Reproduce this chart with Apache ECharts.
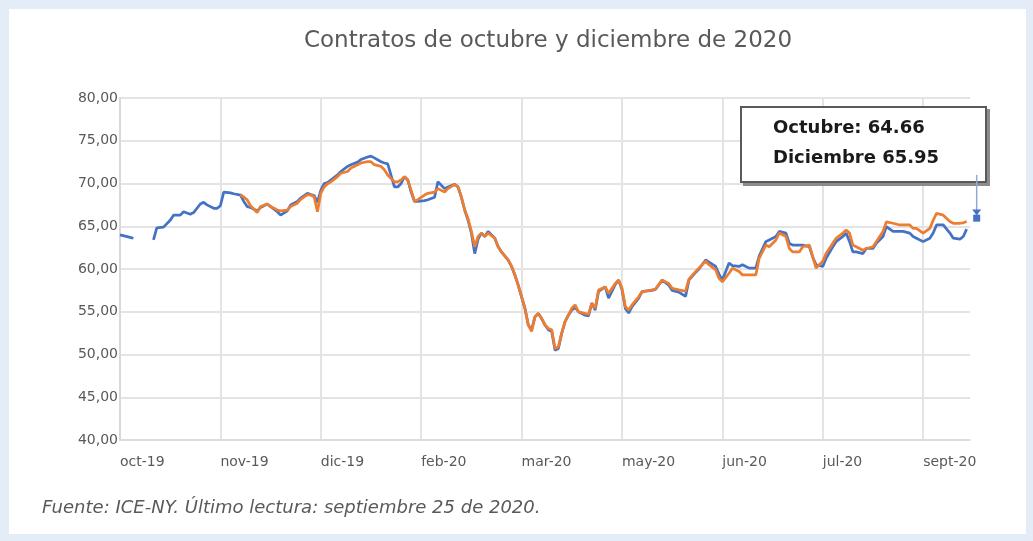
<!DOCTYPE html>
<html>
<head>
<meta charset="utf-8">
<script src="https://cdn.jsdelivr.net/npm/echarts@6/dist/echarts.min.js"></script>
<style>
  html, body { margin: 0; padding: 0; background: #e4ecf8; }
  #chart { position: absolute; left: 9px; top: 9px; width: 1017px; height: 525px; background: #ffffff; }
</style>
</head>
<body>
<div id="chart"></div>
<script>
// indice de dia de negociacion (desde el 1 de octubre de 2019)
var dias = [
  0, 3, 4, 7, 10, 11, 13, 15, 16, 18,
  19, 21, 22, 24, 25, 26, 28, 29, 30, 31,
  33, 34, 36, 37, 38, 39, 41, 42, 44, 45,
  47, 48, 50, 51, 53, 54, 56, 57, 58, 59,
  60, 61, 62, 63, 65, 66, 68, 69, 71, 72,
  74, 75, 76, 78, 79, 80, 82, 83, 84, 85,
  86, 87, 88, 89, 91, 92, 94, 95, 97, 98,
  100, 101, 102, 103, 104, 105, 106, 107, 108, 109,
  110, 112, 113, 114, 116, 117, 118, 119, 120, 121,
  122, 123, 124, 125, 126, 127, 128, 129, 130, 131,
  132, 133, 134, 135, 136, 137, 139, 140, 141, 142,
  143, 145, 146, 148, 149, 150, 151, 152, 153, 155,
  156, 157, 159, 160, 162, 164, 165, 167, 169, 170,
  172, 173, 175, 176, 178, 179, 180, 182, 183, 185,
  186, 188, 189, 190, 191, 193, 194, 196, 197, 199,
  200, 201, 203, 204, 206, 207, 208, 210, 211, 213,
  214, 216, 217, 218, 219, 220, 222, 223, 225, 226,
  228, 229, 231, 233, 234, 236, 237, 238, 240, 242,
  243, 244, 246, 248, 249, 251, 252, 253
];

var octubre = [
  64.0, 63.7, 63.6, null, 63.4, 64.8, 64.9, 65.7, 66.3, 66.3,
  66.7, 66.4, 66.6, 67.6, 67.8, 67.5, 67.1, 67.1, 67.4, 69.0,
  68.9, 68.8, 68.65, 67.9, 67.3, 67.2, 66.8, 67.2, 67.6, 67.3,
  66.7, 66.3, 66.8, 67.5, 67.9, 68.3, 68.85, 68.7, 68.6, 67.8,
  69.2, 70.0, 70.1, 70.4, 71.0, 71.4, 72.0, 72.2, 72.5, 72.8,
  73.1, 73.2, 73.0, 72.55, 72.4, 72.3, 69.6, 69.6, 70.0, 70.8,
  70.4, 69.0, 67.9, 67.9, 68.0, 68.1, 68.4, 70.2, 69.4, 69.6,
  69.9, 69.6, 68.4, 66.9, 65.7, 64.2, 61.8, 63.5, 64.2, 63.8,
  64.4, 63.6, 62.6, 62.0, 61.05, 60.3, 59.3, 58.1, 56.75, 55.4,
  53.45, 52.9, 54.4, 54.8, 54.2, 53.45, 52.9, 52.7, 50.5, 50.7,
  52.5, 53.85, 54.6, 55.2, 55.5, 55.0, 54.6, 54.5, 56.0, 55.2,
  57.4, 57.9, 56.6, 58.2, 58.7, 57.6, 55.4, 54.85, 55.6, 56.6,
  57.35, 57.4, 57.5, 57.6, 58.7, 58.1, 57.5, 57.3, 56.8, 58.7,
  59.6, 60.0, 61.05, 60.8, 60.3, 59.4, 58.7, 60.7, 60.4, 60.3,
  60.5, 60.1, 60.1, 60.1, 61.5, 63.2, 63.4, 63.8, 64.4, 64.2,
  63.0, 62.8, 62.8, 62.8, 62.6, 61.4, 60.5, 60.3, 61.25, 62.6,
  63.2, 63.8, 64.2, 63.2, 62.0, 62.0, 61.8, 62.4, 62.4, 63.0,
  63.8, 64.95, 64.4, 64.4, 64.4, 64.2, 63.8, 63.6, 63.2, 63.6,
  64.2, 65.15, 65.15, 64.2, 63.6, 63.5, 63.8, 64.66
];

var diciembre = [
  null, null, null, null, null, null, null, null, null, null,
  null, null, null, null, null, null, null, null, null, null,
  null, null, 68.7, 68.4, 68.1, 67.4, 66.6, 67.3, 67.6, 67.3,
  66.9, 66.8, 66.9, 67.3, 67.7, 68.15, 68.7, 68.65, 68.45, 66.7,
  68.85, 69.6, 69.95, 70.2, 70.8, 71.2, 71.4, 71.8, 72.2, 72.4,
  72.55, 72.55, 72.2, 72.0, 71.6, 71.0, 70.2, 70.2, 70.4, 70.8,
  70.4, 69.2, 67.9, 68.1, 68.65, 68.85, 69.0, 69.4, 69.0, 69.4,
  69.9, 69.6, 68.45, 66.9, 65.9, 64.4, 62.6, 63.8, 64.2, 63.8,
  64.2, 63.6, 62.6, 62.0, 61.05, 60.3, 59.3, 58.1, 56.75, 55.4,
  53.45, 52.7, 54.4, 54.8, 54.2, 53.45, 53.05, 52.9, 50.7, 50.9,
  52.5, 53.85, 54.6, 55.4, 55.8, 55.0, 54.8, 54.7, 56.0, 55.4,
  57.55, 57.9, 57.15, 58.3, 58.7, 57.75, 55.6, 55.2, 55.8, 56.75,
  57.35, 57.4, 57.55, 57.65, 58.7, 58.3, 57.75, 57.55, 57.4, 58.8,
  59.7, 60.1, 60.9, 60.5, 59.9, 58.9, 58.5, 59.5, 60.1, 59.7,
  59.3, 59.3, 59.3, 59.3, 61.25, 62.8, 62.6, 63.4, 64.2, 63.8,
  62.4, 62.0, 62.0, 62.6, 62.8, 61.45, 60.1, 60.9, 61.8, 63.0,
  63.6, 64.2, 64.55, 64.2, 62.8, 62.6, 62.2, 62.4, 62.6, 63.2,
  64.4, 65.5, 65.35, 65.15, 65.15, 65.15, 64.75, 64.75, 64.2, 64.75,
  65.7, 66.5, 66.3, 65.55, 65.35, 65.35, 65.4, 65.55
];

// ultima lectura senalada con la flecha
var ultimoDia = [256];
var ultimoValor = [65.95];
var flechaValores = [71.0, 66.6];

var etiquetasX = ['oct-19', 'nov-19', 'dic-19', 'feb-20', 'mar-20', 'may-20', 'jun-20', 'jul-20', 'sept-20'];
var pasoX = 30;
var maxX = 254;

var gris = '#595959';
var rejilla = '#e4e4e4';
var azul = '#4472c4';
var naranja = '#ed7d31';
var fuente = '"DejaVu Sans", "Open Sans", sans-serif';

function pares(xs, ys) {
  return xs.map(function(x, i) { return [x, ys[i]]; });
}

var chart = echarts.init(document.getElementById('chart'), null, { renderer: 'canvas' });
chart.setOption({
  animation: false,
  textStyle: { fontFamily: fuente },
  title: {
    text: 'Contratos de octubre y diciembre de 2020',
    left: 534,
    top: 16,
    textAlign: 'center',
    textStyle: { color: gris, fontSize: 23, fontWeight: 'normal', fontFamily: fuente }
  },
  grid: { left: 111, right: 56, top: 89, bottom: 94 },
  xAxis: {
    type: 'value',
    min: 0,
    max: maxX,
    interval: pasoX,
    axisLine: { show: true, lineStyle: { color: '#d9d9d9', width: 1.5 } },
    axisTick: { show: false },
    axisLabel: {
      color: gris,
      fontSize: 14,
      margin: 15,
      align: 'left',
      showMaxLabel: false,
      formatter: function(v) { return etiquetasX[Math.round(v / pasoX)] || ''; }
    },
    splitLine: { show: true, showMaxLine: false, lineStyle: { color: rejilla, width: 2 } }
  },
  yAxis: {
    type: 'value',
    min: 40,
    max: 80,
    interval: 5,
    axisLine: { show: true, lineStyle: { color: '#d9d9d9', width: 2 } },
    axisTick: { show: false },
    axisLabel: {
      color: gris,
      fontSize: 14,
      margin: 2,
      formatter: function(v) { return v.toFixed(2).replace('.', ','); }
    },
    splitLine: { lineStyle: { color: rejilla, width: 2 } }
  },
  series: [
    {
      name: 'Octubre',
      type: 'line',
      data: pares(dias, octubre),
      showSymbol: false,
      lineStyle: { color: azul, width: 2.75 },
      itemStyle: { color: azul }
    },
    {
      name: 'Diciembre',
      type: 'line',
      data: pares(dias, diciembre),
      showSymbol: false,
      lineStyle: { color: naranja, width: 2.75 },
      itemStyle: { color: naranja }
    },
    {
      name: 'Ultimo',
      type: 'scatter',
      clip: false,
      silent: true,
      symbol: 'rect',
      symbolSize: 7,
      data: pares(ultimoDia, ultimoValor),
      itemStyle: { color: azul, opacity: 1 }
    }
  ],
  graphic: [
    {
      id: 'cuadro',
      type: 'group',
      left: 731,
      top: 97,
      z: 100,
      children: [
        {
          type: 'rect',
          z: 100,
          shape: { x: 3, y: 3, width: 247, height: 77 },
          style: { fill: '#8c8c8c' }
        },
        {
          type: 'rect',
          z: 101,
          shape: { x: 1, y: 1, width: 245, height: 75 },
          style: { fill: '#ffffff', stroke: '#5a5a5a', lineWidth: 2 }
        },
        {
          type: 'text',
          z: 102,
          x: 33, y: 22,
          style: { text: 'Octubre: 64.66', fill: '#1a1a1a', font: 'bold 18px ' + fuente, textVerticalAlign: 'middle' }
        },
        {
          type: 'text',
          z: 102,
          x: 33, y: 52,
          style: { text: 'Diciembre 65.95', fill: '#1a1a1a', font: 'bold 18px ' + fuente, textVerticalAlign: 'middle' }
        }
      ]
    },
    {
      id: 'fuente',
      type: 'text',
      left: 33,
      top: 490,
      style: {
        text: 'Fuente: ICE-NY. Último lectura: septiembre 25 de 2020.',
        fill: gris,
        font: 'italic 18px ' + fuente
      }
    }
  ]
});

// flecha del cuadro hacia la ultima lectura (posicion tomada de las escalas)
var p0 = chart.convertToPixel({ gridIndex: 0 }, [ultimoDia[0], flechaValores[0]]);
var p1 = chart.convertToPixel({ gridIndex: 0 }, [ultimoDia[0], flechaValores[1]]);
chart.setOption({
  graphic: [
    {
      id: 'flechaLinea',
      type: 'line',
      z: 110,
      shape: { x1: p0[0], y1: p0[1], x2: p1[0], y2: p1[1] },
      style: { stroke: '#8eaadb', lineWidth: 1.5 }
    },
    {
      id: 'flechaPunta',
      type: 'polygon',
      z: 110,
      shape: { points: [[p1[0] - 4.5, p1[1] - 3], [p1[0] + 4.5, p1[1] - 3], [p1[0], p1[1] + 3]] },
      style: { fill: azul }
    }
  ]
});
window.addEventListener('resize', function() { chart.resize(); });
</script>
</body>
</html>
